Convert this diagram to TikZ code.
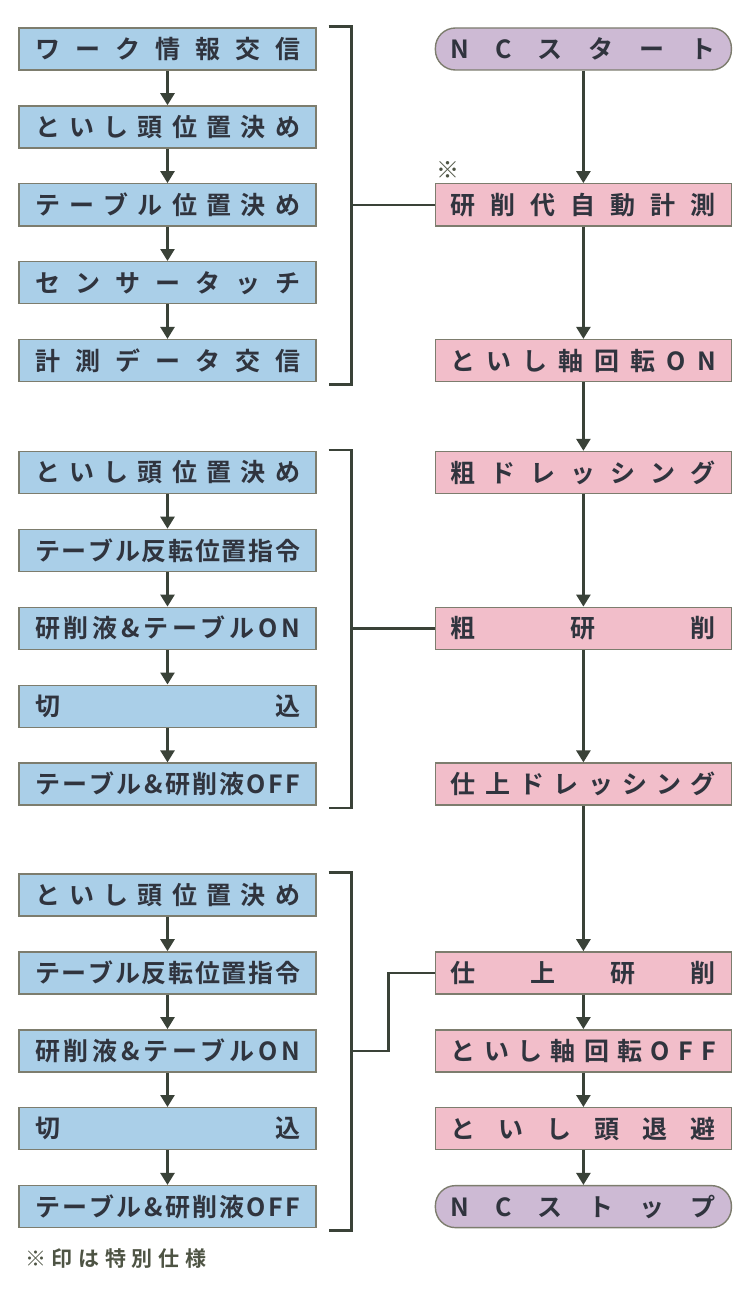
\documentclass[tikz,border=0pt]{standalone}
\usepackage{fontspec}
\usepackage{xcolor}
\usepackage{tikz}
\usetikzlibrary{arrows.meta,positioning,calc}
\newfontfamily\jpfont{Noto Sans CJK JP Bold}
\definecolor{boxblue}{RGB}{170,207,232}
\definecolor{boxpink}{RGB}{242,190,202}
\definecolor{boxlilac}{RGB}{205,186,212}
\definecolor{edgegrey}{RGB}{125,125,110}
\definecolor{inkgrey}{RGB}{48,52,62}
\definecolor{linegrey}{RGB}{58,66,56}
\definecolor{notegrey}{RGB}{78,84,68}

\makeatletter
\newcommand{\spreadchars}[1]{%
  \let\sc@sep\relax
  \@tfor\sc@c:=#1\do{\sc@sep\sc@c\let\sc@sep\hfil}}
\makeatother
\newcommand{\jtext}[1]{\makebox[265pt][s]{\spreadchars{#1}}}

\begin{document}
\begin{tikzpicture}[x=1pt, y=-1pt, node distance=34.5pt,
    lbox/.style = {shape=rectangle, draw=edgegrey, line width=1.4pt,
      fill=boxblue, text=inkgrey, minimum width=297pt,
      minimum height=42pt, inner sep=0pt,
      font=\jpfont\fontsize{25}{25}\selectfont},
    rbox/.style = {lbox, fill=boxpink, minimum width=296pt},
    ncbox/.style = {rbox, fill=boxlilac, rounded corners=20pt},
    post/.style = {-{Triangle[width=14pt,length=12pt]}, line width=2.6pt,
      draw=linegrey},
    brk/.style = {line width=2.6pt, draw=linegrey}]

  \useasboundingbox (0,0) rectangle (743,1292);

  % measuring before grinding
  \node [lbox] (a1) at (167.5,49) {\jtext{ワーク情報交信}};
  \node [lbox, below=of a1] (a2) {\jtext{といし頭位置決め}};
  \node [lbox, below=of a2] (a3) {\jtext{テーブル位置決め}};
  \node [lbox, below=of a3] (a4) {\jtext{センサータッチ}};
  \node [lbox, below=of a4] (a5) {\jtext{計測データ交信}};

  % rough grinding
  \node [lbox] (b1) at (167.5,472.5) {\jtext{といし頭位置決め}};
  \node [lbox, below=of b1] (b2) {\jtext{テーブル反転位置指令}};
  \node [lbox, below=of b2] (b3) {\jtext{研削液\&テーブルON}};
  \node [lbox, below=of b3] (b4) {\jtext{切込}};
  \node [lbox, below=of b4] (b5) {\jtext{テーブル\&研削液OFF}};

  % finish grinding
  \node [lbox] (c1) at (167.5,895) {\jtext{といし頭位置決め}};
  \node [lbox, below=of c1] (c2) {\jtext{テーブル反転位置指令}};
  \node [lbox, below=of c2] (c3) {\jtext{研削液\&テーブルON}};
  \node [lbox, below=of c3] (c4) {\jtext{切込}};
  \node [lbox, below=of c4] (c5) {\jtext{テーブル\&研削液OFF}};

  % main NC sequence
  \node [ncbox, right=118pt of a1] (r1) {\jtext{NCスタート}};
  \node [rbox, right=118pt of a3] (r2) {\jtext{研削代自動計測}};
  \node [rbox, right=118pt of a5] (r3) {\jtext{といし軸回転ON}};
  \node [rbox, right=118pt of b1] (r4) {\jtext{粗ドレッシング}};
  \node [rbox, right=118pt of b3] (r5) {\jtext{粗研削}};
  \node [rbox, right=118pt of b5] (r6) {\jtext{仕上ドレッシング}};
  \node [rbox, right=118pt of c2] (r7) {\jtext{仕上研削}};
  \node [rbox, right=118pt of c3] (r8) {\jtext{といし軸回転OFF}};
  \node [rbox, right=118pt of c4] (r9) {\jtext{といし頭退避}};
  \node [ncbox, right=118pt of c5] (r10) {\jtext{NCストップ}};

  \node [font=\jpfont\fontsize{23}{23}\selectfont, text=notegrey] (mk)
    at ($(r2.north west)+(13,-13)$) {※};
  \node [anchor=west, text=notegrey, inner sep=0pt,
    font=\jpfont\fontsize{21}{21}\selectfont] (note)
    at (25,1259) {\makebox[181pt][s]{\spreadchars{※印は特別仕様}}};

  \draw [post] (a1) -- (a2);
  \draw [post] (a2) -- (a3);
  \draw [post] (a3) -- (a4);
  \draw [post] (a4) -- (a5);
  \draw [post] (b1) -- (b2);
  \draw [post] (b2) -- (b3);
  \draw [post] (b3) -- (b4);
  \draw [post] (b4) -- (b5);
  \draw [post] (c1) -- (c2);
  \draw [post] (c2) -- (c3);
  \draw [post] (c3) -- (c4);
  \draw [post] (c4) -- (c5);

  \draw [post] (r1) -- (r2);
  \draw [post] (r2) -- (r3);
  \draw [post] (r3) -- (r4);
  \draw [post] (r4) -- (r5);
  \draw [post] (r5) -- (r6);
  \draw [post] (r6) -- (r7);
  \draw [post] (r7) -- (r8);
  \draw [post] (r8) -- (r9);
  \draw [post] (r9) -- (r10);

  % brackets
  \draw [brk] ($(a1.north east)+(12,-1)$) -| ($(a5.south east)+(35,2)$)
    -- ($(a5.south east)+(12,2)$);
  \draw [brk] ($(a3.east)+(35,0)$) -- (r2.west);
  \draw [brk] ($(b1.north east)+(12,-1)$) -| ($(b5.south east)+(35,2)$)
    -- ($(b5.south east)+(12,2)$);
  \draw [brk] ($(b3.east)+(35,0)$) -- (r5.west);
  \draw [brk] ($(c1.north east)+(12,-1)$) -| ($(c5.south east)+(35,2)$)
    -- ($(c5.south east)+(12,2)$);
  \draw [brk] ($(c3.east)+(35,0)$) -- ++(37,0) |- (r7.west);
\end{tikzpicture}
\end{document}
